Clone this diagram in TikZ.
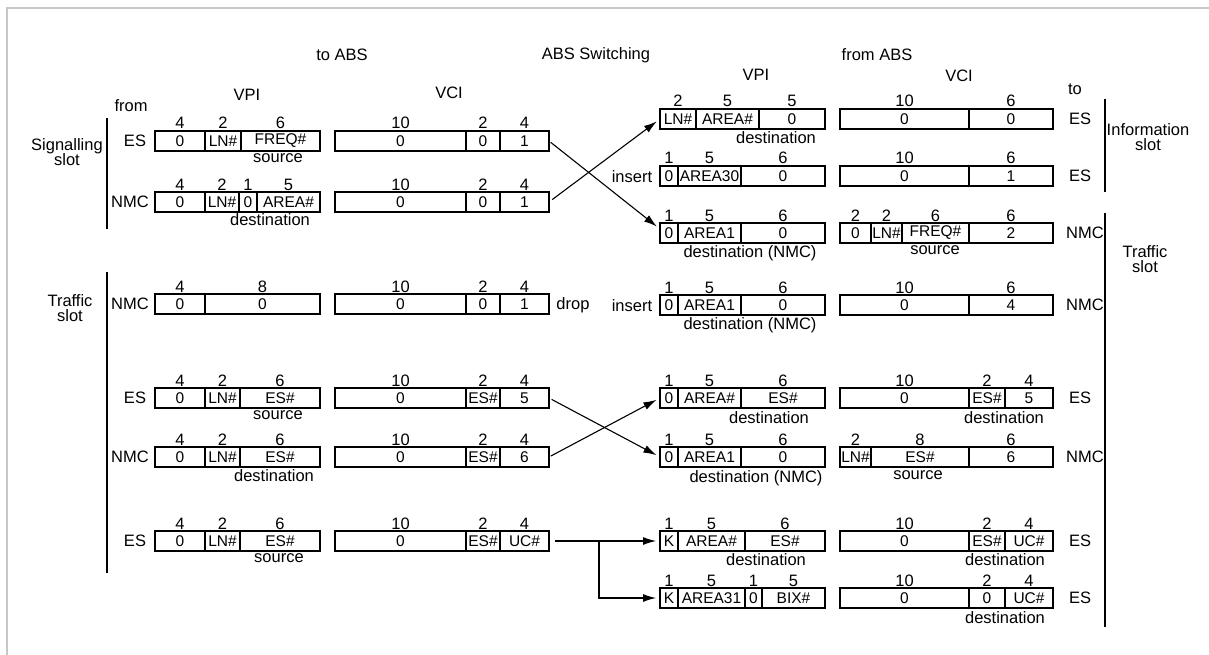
\documentclass[tikz,border=0pt]{standalone}
\usepackage{fontspec}
\setmainfont{Liberation Sans}
\usetikzlibrary{arrows.meta,calc}
\tikzset{
  cell/.style={draw, line width=1.2pt, inner sep=0pt, outer sep=0pt, minimum height=20pt, font=\fontsize{15.5}{15.5}\selectfont},
  bits/.style={inner sep=0pt, anchor=base, font=\fontsize{16.5}{16.5}\selectfont},
  lbl/.style={inner sep=0pt, font=\fontsize{16.5}{18.5}\selectfont, align=center},
  sub/.style={inner sep=0pt, anchor=north, font=\fontsize{16.5}{16.5}\selectfont},
  conn/.style={line width=1.1pt},
  arr/.style={conn, -{Latex[length=13pt,width=8pt]}},
  brk/.style={line width=1.2pt},
  frame/.style={draw=black!22, line width=2pt},
}
% name, x1, x2, ytop, bits, text
\newcommand\fld[6]{%
  \node[cell, minimum width={(#3)-(#2)}] (#1) at ({((#2)+(#3))/2},{(#4)+10}) {#6};
  \node[bits] (#1b) at ({((#2)+(#3))/2},{(#4)-2}) {#5};}
\begin{document}
\begin{tikzpicture}[x=1pt,y=-1pt]
\useasboundingbox (0,0) rectangle (1209,655);
\draw[frame] (7,660) -- (7,8) -- (1215,8);

% headers
\node[lbl] (hto) at (342,55) {to ABS};
\node[lbl] (hsw) at (596,55) {ABS Switching};
\node[lbl] (hfrom) at (877,55) {from ABS};
\node[lbl] (vpiL) at (247,95) {VPI};
\node[lbl] (vciL) at (449,93) {VCI};
\node[lbl] (vpiR) at (756,75) {VPI};
\node[lbl] (vciR) at (959,76) {VCI};
\node[lbl] (from) at (131,106) {from};
\node[lbl] (to) at (1075,89) {to};

% left brackets
\node[lbl] (sigslot) at (67,152) {Signalling\\[-3pt]slot};
\node[lbl] (trafL) at (70,308) {Traffic\\[-3pt]slot};
\draw[brk] (107,118) -- (107,229);
\draw[brk] (107,272) -- (107,573);
% right brackets
\node[lbl] (infslot) at (1148,137) {Information\\[-3pt]slot};
\node[lbl] (trafR) at (1145,259) {Traffic\\[-3pt]slot};
\draw[brk] (1105,99) -- (1105,192);
\draw[brk] (1105,213) -- (1105,627);

% ---- left VPI ----
\fld{sa1}{155}{205}{131}{4}{0}
\fld{sa2}{205}{241}{131}{2}{LN\#}
\fld{sa3}{241}{320}{131}{6}{FREQ\#}
\fld{sb1}{155}{205}{192}{4}{0}
\fld{sb2}{205}{239}{192}{2}{LN\#}
\fld{sb3}{239}{257}{192}{1}{0}
\fld{sb4}{257}{320}{192}{5}{AREA\#}
\fld{ta1}{155}{205}{294}{4}{0}
\fld{ta2}{205}{320}{294}{8}{0}
\fld{tb1}{155}{205}{388}{4}{0}
\fld{tb2}{205}{240}{388}{2}{LN\#}
\fld{tb3}{240}{320}{388}{6}{ES\#}
\fld{tc1}{155}{205}{447}{4}{0}
\fld{tc2}{205}{240}{447}{2}{LN\#}
\fld{tc3}{240}{320}{447}{6}{ES\#}
\fld{td1}{155}{205}{531}{4}{0}
\fld{td2}{205}{240}{531}{2}{LN\#}
\fld{td3}{240}{320}{531}{6}{ES\#}

% ---- left VCI ----
\fld{sa4}{335}{466}{131}{10}{0}
\fld{sa5}{466}{500}{131}{2}{0}
\fld{sa6}{500}{549}{131}{4}{1}
\fld{sb5}{335}{466}{192}{10}{0}
\fld{sb6}{466}{500}{192}{2}{0}
\fld{sb7}{500}{549}{192}{4}{1}
\fld{ta3}{335}{466}{294}{10}{0}
\fld{ta4}{466}{500}{294}{2}{0}
\fld{ta5}{500}{549}{294}{4}{1}
\fld{tb4}{335}{466}{388}{10}{0}
\fld{tb5}{466}{500}{388}{2}{ES\#}
\fld{tb6}{500}{549}{388}{4}{5}
\fld{tc4}{335}{466}{447}{10}{0}
\fld{tc5}{466}{500}{447}{2}{ES\#}
\fld{tc6}{500}{549}{447}{4}{6}
\fld{td4}{335}{466}{531}{10}{0}
\fld{td5}{466}{500}{531}{2}{ES\#}
\fld{td6}{500}{549}{531}{4}{UC\#}

% left row labels
\node[lbl] (lsa) at (135,141) {ES};
\node[lbl] (lsb) at (130,202) {NMC};
\node[lbl] (lta) at (130,304) {NMC};
\node[lbl] (ltb) at (135,398) {ES};
\node[lbl] (ltc) at (130,457) {NMC};
\node[lbl] (ltd) at (135,541) {ES};
\node[lbl] (drop) at (573,305) {drop};

\node[sub] (usa) at (278,153) {source};
\node[sub] (usb) at (270,213) {destination};
\node[sub] (utb) at (278,410) {source};
\node[sub] (utc) at (274,469) {destination};
\node[sub] (utd) at (279,553) {source};

% ---- right VPI ----
\fld{ra1}{660}{696}{109}{2}{LN\#}
\fld{ra2}{696}{759}{109}{5}{AREA\#}
\fld{ra3}{759}{825}{109}{5}{0}
\fld{rb1}{660}{678}{166}{1}{0}
\fld{rb2}{678}{741}{166}{5}{AREA30}
\fld{rb3}{741}{825}{166}{6}{0}
\fld{rc1}{660}{678}{223}{1}{0}
\fld{rc2}{678}{741}{223}{5}{AREA1}
\fld{rc3}{741}{825}{223}{6}{0}
\fld{rd1}{660}{678}{295}{1}{0}
\fld{rd2}{678}{741}{295}{5}{AREA1}
\fld{rd3}{741}{825}{295}{6}{0}
\fld{re1}{660}{678}{388}{1}{0}
\fld{re2}{678}{741}{388}{5}{AREA\#}
\fld{re3}{741}{825}{388}{6}{ES\#}
\fld{rf1}{660}{678}{447}{1}{0}
\fld{rf2}{678}{741}{447}{5}{AREA1}
\fld{rf3}{741}{825}{447}{6}{0}
\fld{rg1}{660}{678}{531}{1}{K}
\fld{rg2}{678}{745}{531}{5}{AREA\#}
\fld{rg3}{745}{825}{531}{6}{ES\#}
\fld{rh1}{660}{678}{588}{1}{K}
\fld{rh2}{678}{745}{588}{5}{AREA31}
\fld{rh3}{745}{762}{588}{1}{0}
\fld{rh4}{762}{825}{588}{5}{BIX\#}

% ---- right VCI ----
\fld{ra4}{840}{969}{109}{10}{0}
\fld{ra5}{969}{1053}{109}{6}{0}
\fld{rb4}{840}{969}{166}{10}{0}
\fld{rb5}{969}{1053}{166}{6}{1}
\fld{rc4}{840}{871}{223}{2}{0}
\fld{rc5}{871}{902}{223}{2}{LN\#}
\fld{rc6}{902}{969}{223}{6}{FREQ\#}
\fld{rc7}{969}{1053}{223}{6}{2}
\fld{rd4}{840}{969}{295}{10}{0}
\fld{rd5}{969}{1053}{295}{6}{4}
\fld{re4}{840}{969}{388}{10}{0}
\fld{re5}{969}{1005}{388}{2}{ES\#}
\fld{re6}{1005}{1053}{388}{4}{5}
\fld{rf4}{840}{871}{447}{2}{LN\#}
\fld{rf5}{871}{969}{447}{8}{ES\#}
\fld{rf6}{969}{1053}{447}{6}{6}
\fld{rg4}{840}{969}{531}{10}{0}
\fld{rg5}{969}{1005}{531}{2}{ES\#}
\fld{rg6}{1005}{1053}{531}{4}{UC\#}
\fld{rh5}{840}{969}{588}{10}{0}
\fld{rh6}{969}{1005}{588}{2}{0}
\fld{rh7}{1005}{1053}{588}{4}{UC\#}

% right labels
\node[lbl] (ins1) at (632,177) {insert};
\node[lbl] (ins2) at (632,306) {insert};
\node[lbl] (rla) at (1080,119) {ES};
\node[lbl] (rlb) at (1080,176) {ES};
\node[lbl] (rlc) at (1085,233) {NMC};
\node[lbl] (rld) at (1085,305) {NMC};
\node[lbl] (rle) at (1080,398) {ES};
\node[lbl] (rlf) at (1085,457) {NMC};
\node[lbl] (rlg) at (1080,541) {ES};
\node[lbl] (rlh) at (1080,598) {ES};

\node[sub] (ura) at (776,131) {destination};
\node[sub] (urc) at (750,245) {destination (NMC)};
\node[sub] (urc2) at (935,245) {source};
\node[sub] (urd) at (750,317) {destination (NMC)};
\node[sub] (ure) at (769,411) {destination};
\node[sub] (ure2) at (1004,411) {destination};
\node[sub] (urf) at (756,470) {destination (NMC)};
\node[sub] (urf2) at (918,470) {source};
\node[sub] (urg) at (766,553) {destination};
\node[sub] (urg2) at (1005,553) {destination};
\node[sub] (urh) at (1005,611) {destination};

% ---- connectors ----
\draw[arr, shorten <=2pt, shorten >=4pt] (sa6.east) -- ($(rc1.west)+(0,-4)$);
\draw[arr, shorten <=4pt, shorten >=4pt] (sb7.east) -- (ra1.west);
\draw[arr, shorten <=3pt, shorten >=4pt] (tb6.east) -- (rf1.west);
\draw[arr, shorten <=2pt, shorten >=4pt] (tc6.east) -- (re1.west);
\coordinate (split) at (599,541);
\draw[arr, shorten <=6pt, shorten >=4pt] (td6.east) -- (rg1.west);
\draw[arr, shorten >=4pt] (split) |- (rh1.west);
\end{tikzpicture}
\end{document}
